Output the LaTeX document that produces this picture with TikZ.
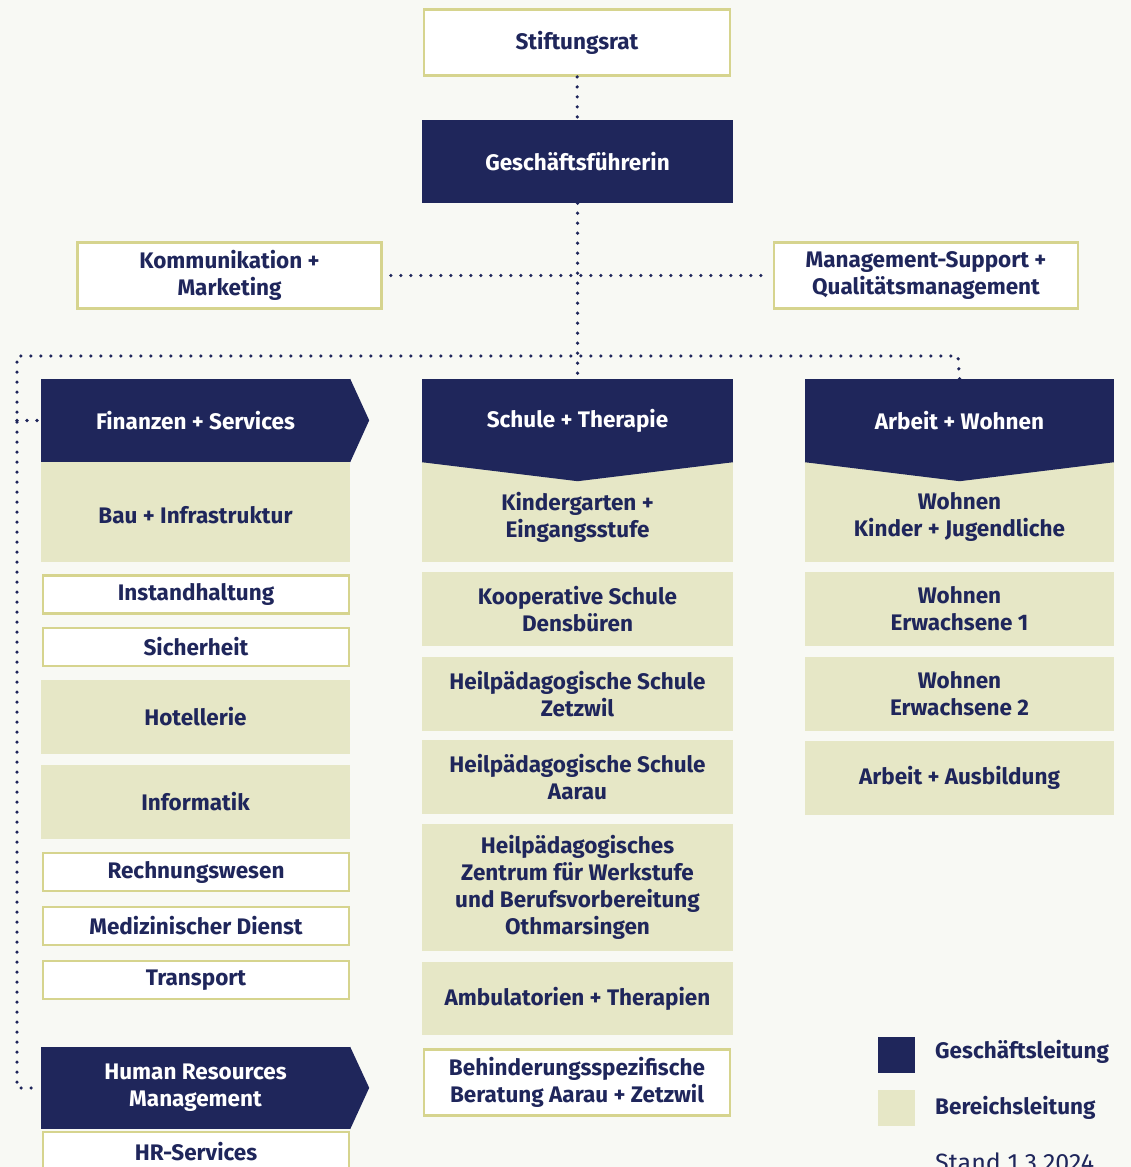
\documentclass[tikz,border=0pt]{standalone}
\usepackage{fontspec}
\setmainfont{Fira Sans}
\begin{document}
\begin{tikzpicture}[x=1pt,y=-1pt,
  box/.style={rectangle,inner sep=0pt,align=center,font=\bfseries\fontsize{22.5}{26.8}\selectfont,text=navy},
  wbox/.style={box,fill=white,draw=bordc,line width=2.8pt,minimum width=306pt},
  bbox/.style={box,fill=beige,minimum width=309pt},
  nbox/.style={box,fill=navy,text=white,minimum width=309pt},
  dotline/.style={draw=navy,line width=3.6pt,line cap=round,dash pattern=on 0pt off 10pt}]
  \definecolor{navy}{HTML}{1F265B}
  \definecolor{beige}{HTML}{E6E7C6}
  \definecolor{bordc}{HTML}{D6D48E}
  \definecolor{bg}{HTML}{F8F9F4}
  \fill [bg] (0,0) rectangle (1131,1167);
  \useasboundingbox (0,0) rectangle (1131,1167);
  \node [wbox,minimum height=66pt] (stift) at (577,42.5) {Stiftungsrat};
  \node [nbox,minimum width=311pt,minimum height=83pt] (gf) at (577.5,161.5) {Geschäftsführerin};
  \node [wbox,minimum width=304pt,minimum height=66pt] (kom) at (229.5,275.5) {Kommunikation +\\Marketing};
  \node [wbox,minimum width=304pt,minimum height=66pt] (msq) at (926,275.5) {Management-Support +\\Qualitätsmanagement};
  \node [bbox,minimum height=94pt] (bau) at (195.5,515) {Bau + Infrastruktur};
  \fill [beige] (bau.north west) rectangle ++(309,-7);
  \node [wbox,minimum height=38pt] (inst) at (196,594.5) {Instandhaltung};
  \node [wbox,minimum height=38pt] (sich) at (196,647) {Sicherheit};
  \node [bbox,minimum height=74pt] (hot) at (195.5,717) {Hotellerie};
  \node [bbox,minimum height=74pt] (inf) at (195.5,802) {Informatik};
  \node [wbox,minimum height=38pt] (rw) at (196,872) {Rechnungswesen};
  \node [wbox,minimum height=38pt] (med) at (196,926) {Medizinischer Dienst};
  \node [wbox,minimum height=38pt] (trans) at (196,980) {Transport};
  \node [wbox,minimum height=40pt] (hrs) at (196,1152) {HR-Services};
  \node [bbox,minimum width=311pt,minimum height=90pt] (kig) at (577.5,517) {Kindergarten +\\Eingangsstufe};
  \fill [beige] (kig.north west) rectangle ++(311,-11);
  \node [bbox,minimum width=311pt,minimum height=74pt] (koop) at (577.5,609) {Kooperative Schule\\Densbüren};
  \node [bbox,minimum width=311pt,minimum height=74pt] (hpz) at (577.5,694) {Heilpädagogische Schule\\Zetzwil};
  \node [bbox,minimum width=311pt,minimum height=74pt] (hpa) at (577.5,777) {Heilpädagogische Schule\\Aarau};
  \node [bbox,minimum width=311pt,minimum height=127pt] (hpw) at (577.5,887.5) {Heilpädagogisches\\Zentrum für Werkstufe\\und Berufsvorbereitung\\Othmarsingen};
  \node [bbox,minimum width=311pt,minimum height=73pt] (amb) at (577.5,998.5) {Ambulatorien + Therapien};
  \node [wbox,minimum height=66pt] (bsb) at (577,1082.5) {Behinderungsspezifische\\Beratung Aarau + Zetzwil};
  \node [bbox,minimum height=90pt] (wkj) at (959.5,517) {Wohnen\\Kinder + Jugendliche};
  \fill [beige] (wkj.north west) rectangle ++(309,-11);
  \node [bbox,minimum height=74pt] (we1) at (959.5,609) {Wohnen\\Erwachsene 1};
  \node [bbox,minimum height=74pt] (we2) at (959.5,694) {Wohnen\\Erwachsene 2};
  \node [bbox,minimum height=74pt] (aa) at (959.5,778) {Arbeit + Ausbildung};
  \node [nbox,minimum height=83pt] (fin) at (195.5,420.5) {Finanzen + Services};
  \fill [navy] (fin.north east) -- ++(19,41.5) -- (fin.south east) -- cycle;
  \node [nbox,minimum height=82pt] (hr) at (195.5,1088) {Human Resources\\Management};
  \fill [navy] (hr.north east) -- ++(19,41) -- (hr.south east) -- cycle;
  \node [nbox,minimum width=311pt,minimum height=83pt] (sts) at (577.5,420.5) {Schule + Therapie};
  \fill [navy] (sts.south west) -- (sts.south east) -- ++(-155.5,19) -- cycle;
  \node [nbox,minimum height=83pt] (aw) at (959.5,420.5) {Arbeit + Wohnen};
  \fill [navy] (aw.south west) -- (aw.south east) -- ++(-154.5,19) -- cycle;
  \coordinate (lt) at (17,356);
  \coordinate (rt) at (958,356);
  \draw [dotline] (stift) -- (gf);
  \draw [dotline] (gf) -- (sts);
  \draw [dotline,shorten <=8pt,shorten >=2pt] (kom) -- (msq);
  \draw [dotline] (aw.north) -- (rt) -- (lt) -- (lt |- hr.west) -- (hr.west);
  \draw [dotline] (lt |- fin.west) -- (fin.west);
  \node [rectangle,fill=navy,minimum width=37pt,minimum height=36pt] (lgl) at (896.5,1055) {};
  \node [rectangle,fill=beige,minimum width=37pt,minimum height=36pt] (lbl) at (896.5,1108) {};
  \node [box,anchor=west] (tgl) at (935,1052) {Geschäftsleitung};
  \node [box,anchor=west] (tbl) at (935,1108) {Bereichsleitung};
  \node [box,anchor=base west,font=\fontsize{25}{30}\selectfont] (stand) at (935,1171) {Stand 1.3.2024};
\end{tikzpicture}
\end{document}
